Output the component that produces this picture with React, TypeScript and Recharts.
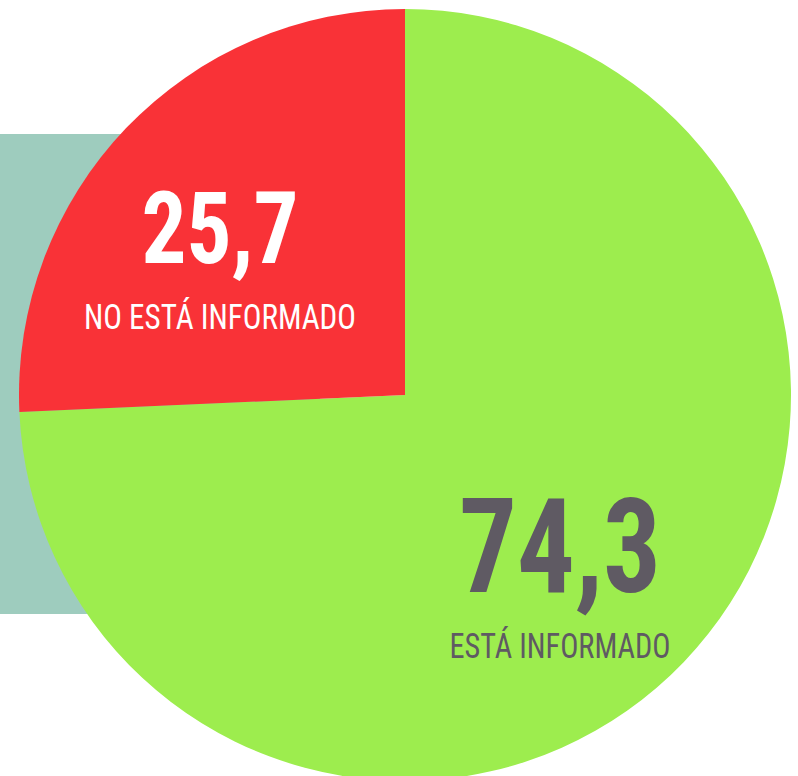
import React from "react";
import { PieChart, Pie, Cell } from "recharts";

const LABELS = ["ESTÁ INFORMADO", "NO ESTÁ INFORMADO"];
const VALUES = [74.3, 25.7];
const VALUE_TEXT = ["74,3", "25,7"];

const COLORS = ["#9DED4E", "#F93237"];
const TEXT_COLORS = ["#5F5A63", "#FFFFFF"];

// label anchors relative to pie centre
const LABEL_OFFSETS = [
  { dx: 155, dy: 197, numSize: 132, numWidth: 202, subWidth: 221 },
  { dx: -185, dy: -132, numSize: 100, numWidth: 157, subWidth: 272 },
];

const data = LABELS.map((name, i) => ({ name, value: VALUES[i], text: VALUE_TEXT[i] }));

const renderLabel = (props: any) => {
  const { cx, cy, index } = props;
  const o = LABEL_OFFSETS[index];
  const x = cx + o.dx;
  const y = cy + o.dy;
  const font = "'Liberation Sans Narrow', 'Roboto Condensed', Roboto, Arial, sans-serif";
  return (
    <g key={`lbl-${index}`}>
      <text
        x={x}
        y={y}
        textAnchor="middle"
        fill={TEXT_COLORS[index]}
        fontFamily={font}
        fontWeight="bold"
        fontSize={o.numSize}
        textLength={o.numWidth}
        lengthAdjust="spacingAndGlyphs"
      >
        {VALUE_TEXT[index]}
      </text>
      <text
        x={x}
        y={y + 66}
        textAnchor="middle"
        fill={TEXT_COLORS[index]}
        fontFamily={font}
        fontSize={35}
        textLength={o.subWidth}
        lengthAdjust="spacingAndGlyphs"
      >
        {LABELS[index]}
      </text>
    </g>
  );
};

export default function App() {
  return (
    <div style={{ position: "absolute", left: 0, top: 0, width: 798, height: 776, background: "#fff", overflow: "hidden" }}>
      <div
        style={{
          position: "absolute",
          left: 0,
          top: 134,
          width: 320,
          height: 480,
          background: "#9ECCBE",
        }}
      />
      <div style={{ position: "absolute", left: 0, top: 0 }}>
        <PieChart width={798} height={776} margin={{ top: 0, right: 0, bottom: 0, left: 0 }}>
          <Pie
            data={data}
            dataKey="value"
            nameKey="name"
            cx={405}
            cy={395}
            outerRadius={386}
            startAngle={90}
            endAngle={-270}
            stroke="none"
            label={renderLabel}
            labelLine={false}
            isAnimationActive={false}
          >
            {data.map((entry, index) => (
              <Cell key={`cell-${index}`} fill={COLORS[index]} />
            ))}
          </Pie>
        </PieChart>
      </div>
    </div>
  );
}
